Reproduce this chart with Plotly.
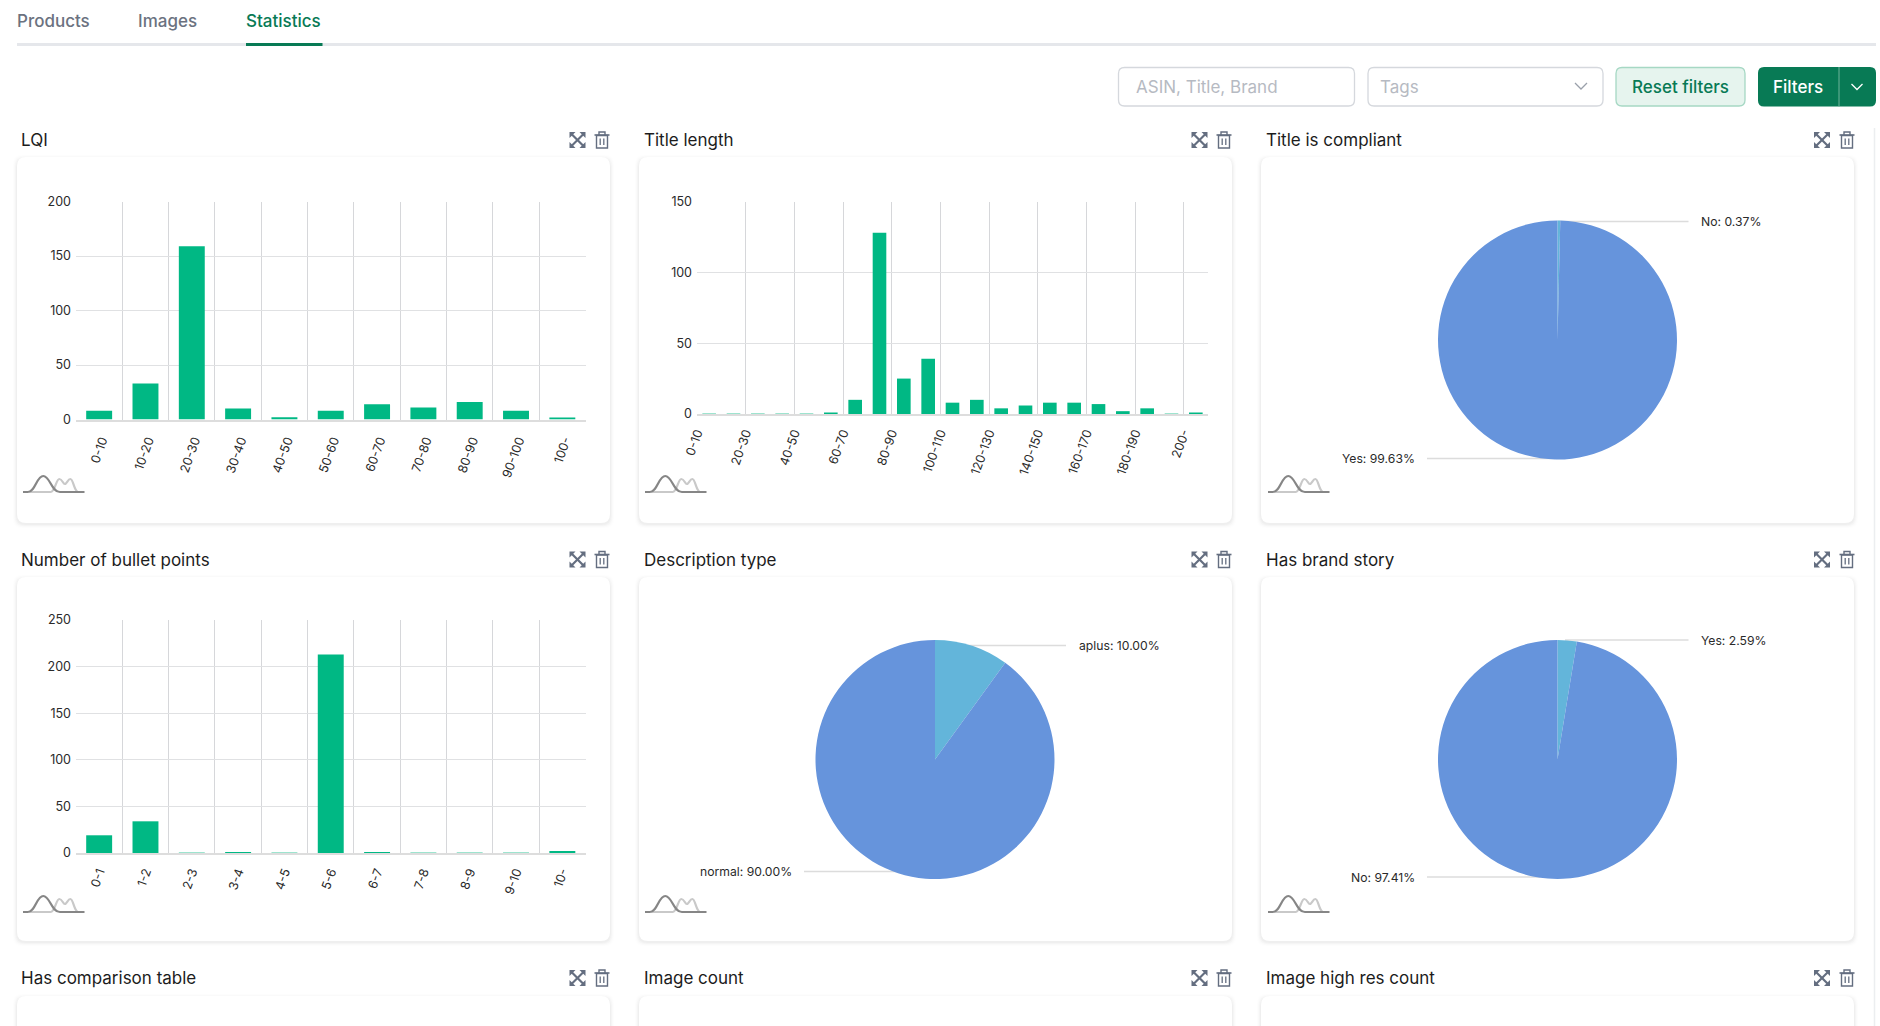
# dashboard "Statistics" tab: three bar charts, three pies, and the page around them
import plotly.graph_objects as go

W = 1880
H = 1026

GREEN = "#00b884"
DARK_GREEN = "#087a55"
BLUE = "#6694dc"
LIGHT_BLUE = "#63b5da"
GRID_V = "#d6d7da"
GRID_H = "#e0e1e3"
FONT = "Inter"

# bar chart data
lqi_cats = ["0-10", "10-20", "20-30", "30-40", "40-50", "50-60", "60-70", "70-80", "80-90", "90-100", "100-"]
lqi_vals = [8, 33, 159, 10, 2, 8, 14, 11, 16, 8, 1]

title_cats = ["0-10", "10-20", "20-30", "30-40", "40-50", "50-60", "60-70", "70-80", "80-90", "90-100", "100-110",
              "110-120", "120-130", "130-140", "140-150", "150-160", "160-170", "170-180", "180-190", "190-200", "200-"]
title_vals = [0, 0, 0, 0, 0, 1, 10, 128, 25, 39, 8, 10, 4, 6, 8, 8, 7, 2, 4, 0, 1]

bullet_cats = ["0-1", "1-2", "2-3", "3-4", "4-5", "5-6", "6-7", "7-8", "8-9", "9-10", "10-"]
bullet_vals = [19, 34, 0, 1, 0, 213, 1, 0, 0, 0, 2]

# pie data, percent
compliant_labels = ["No", "Yes"]
compliant_vals = [0.37, 99.63]
desc_labels = ["aplus", "normal"]
desc_vals = [10.00, 90.00]
brand_labels = ["Yes", "No"]
brand_vals = [2.59, 97.41]

# page text
tabs = ["Products", "Images", "Statistics"]
row1_titles = ["LQI", "Title length", "Title is compliant"]
row2_titles = ["Number of bullet points", "Description type", "Has brand story"]
row3_titles = ["Has comparison table", "Image count", "Image high res count"]


def px(x):
    return x / W


def py(y):
    return 1 - y / H


def path(cmds):
    # cmds is a list of (letter, x, y, ...) in page pixels
    out = []
    for c in cmds:
        nums = []
        for i, v in enumerate(c[1:]):
            nums.append(str(px(v) if i % 2 == 0 else py(v)))
        out.append(c[0] + " " + " ".join(nums))
    return " ".join(out)


def round_rect(x0, y0, x1, y1, r):
    return path([("M", x0 + r, y0), ("L", x1 - r, y0), ("Q", x1, y0, x1, y0 + r),
                 ("L", x1, y1 - r), ("Q", x1, y1, x1 - r, y1),
                 ("L", x0 + r, y1), ("Q", x0, y1, x0, y1 - r),
                 ("L", x0, y0 + r), ("Q", x0, y0, x0 + r, y0)]) + " Z"


shapes = []
annots = []


def add_path(d, fill="rgba(0,0,0,0)", line=None, width=0):
    shapes.append(dict(type="path", path=d, xref="paper", yref="paper", layer="below",
                       fillcolor=fill, line=dict(color=line or "rgba(0,0,0,0)", width=width)))


def add_line(x0, y0, x1, y1, color, width=1.0):
    shapes.append(dict(type="line", xref="paper", yref="paper", layer="below",
                       x0=px(x0), y0=py(y0), x1=px(x1), y1=py(y1), line=dict(color=color, width=width)))


def add_text(x, y, text, size=17, color="#1c1c1c", anchor="left", weight=400):
    annots.append(dict(x=px(x), y=py(y), xref="paper", yref="paper", text=text, showarrow=False,
                       xanchor=anchor, yanchor="middle",
                       font=dict(family=FONT, size=size, color=color, weight=weight)))


def add_card(x0, y0, x1, y1):
    for off, alpha in [(4, 0.008), (3, 0.012), (2, 0.018), (1, 0.025)]:
        add_path(round_rect(x0 - off, y0 - off + 2, x1 + off, y1 + off + 1, 9), fill="rgba(0,0,0,%s)" % alpha)
    add_path(round_rect(x0, y0, x1, y1, 9), fill="white")


def add_expand(cx, cy):
    c = "#646e80"
    add_line(cx - 6, cy - 6, cx + 6, cy + 6, c, 2.2)
    add_line(cx - 6, cy + 6, cx + 6, cy - 6, c, 2.2)
    for sx in (-1, 1):
        for sy in (-1, 1):
            add_path(path([("M", cx + sx * 8, cy + sy * 8), ("L", cx + sx * 2, cy + sy * 8),
                           ("L", cx + sx * 8, cy + sy * 2)]) + " Z", fill=c)


def add_trash(cx, cy):
    c = "#646e80"
    add_path(path([("M", cx - 5.5, cy - 4.5), ("L", cx + 5.5, cy - 4.5), ("L", cx + 5.5, cy + 8),
                   ("L", cx - 5.5, cy + 8)]) + " Z", line=c, width=1.4)
    add_line(cx - 7.5, cy - 5, cx + 7.5, cy - 5, c, 1.6)
    add_path(path([("M", cx - 3, cy - 5), ("L", cx - 3, cy - 8), ("L", cx + 3, cy - 8), ("L", cx + 3, cy - 5)]),
             line=c, width=1.4)
    add_line(cx - 1.8, cy - 1.5, cx - 1.8, cy + 5, c, 1.3)
    add_line(cx + 1.8, cy - 1.5, cx + 1.8, cy + 5, c, 1.3)


def add_density(x0, base):
    # small two-curve switch icon in the card corner
    u = 61.5 / 100
    add_path(path([("M", x0 + 10 * u, base), ("L", x0 + 45 * u, base),
                   ("C", x0 + 52 * u, base, x0 + 54 * u, base - 13, x0 + 59 * u, base - 13),
                   ("C", x0 + 64 * u, base - 13, x0 + 65 * u, base - 8, x0 + 68 * u, base - 8),
                   ("C", x0 + 71 * u, base - 8, x0 + 73 * u, base - 13, x0 + 77 * u, base - 13),
                   ("C", x0 + 82 * u, base - 13, x0 + 83 * u, base, x0 + 90 * u, base)]),
             line="#c9c9c9", width=2.2)
    add_path(path([("M", x0, base), ("L", x0 + 8 * u, base),
                   ("C", x0 + 20 * u, base, x0 + 22 * u, base - 16, x0 + 33 * u, base - 16),
                   ("C", x0 + 44 * u, base - 16, x0 + 46 * u, base, x0 + 60 * u, base),
                   ("L", x0 + 100 * u, base)]),
             line="#868686", width=2.2)


# page furniture
add_line(17, 44.5, 1876, 44.5, "#e5e7eb", 3)
add_line(246, 44.5, 322.5, 44.5, DARK_GREEN, 3)
add_line(1874.5, 128, 1874.5, H, "#eceef0", 1.5)
add_text(15, 21, tabs[0], color="#6b7280", weight=500)
add_text(136, 21, tabs[1], color="#6b7280", weight=500)
add_text(244, 21, tabs[2], color=DARK_GREEN, weight=500)

add_path(round_rect(1118.5, 67.5, 1354.5, 106, 6), fill="white", line="#d5d8dd", width=1.3)
add_text(1134, 87, "ASIN, Title, Brand", color="#b6bac2")
add_path(round_rect(1368, 67.5, 1603, 106, 6), fill="white", line="#d5d8dd", width=1.3)
add_text(1378, 87, "Tags", color="#b6bac2")
add_path(path([("M", 1575, 83), ("L", 1581, 89), ("L", 1587, 83)]), line="#9aa0aa", width=1.3)
add_path(round_rect(1616, 67.5, 1745, 106, 6), fill="#e6f4ee", line="#a6d8c4", width=1.3)
add_text(1680.5, 87, "Reset filters", color=DARK_GREEN, anchor="center", weight=500)
add_path(round_rect(1758, 67, 1876, 106.5, 6), fill=DARK_GREEN)
add_line(1839, 67, 1839, 106.5, "#6fb39b", 1)
add_text(1798, 87, "Filters", color="white", anchor="center", weight=500)
add_path(path([("M", 1851.5, 84), ("L", 1857, 89.5), ("L", 1862.5, 84)]), line="white", width=1.3)

# cards, titles, icons
card_cols = [(17, 610), (639, 1232), (1261, 1854)]
card_rows = [(157, 523), (577, 941), (996, H + 20)]
title_ys = [140, 559.5, 978]
title_xs = [19, 642, 1264]
expand_xs = [577.5, 1199.5, 1822]
trash_xs = [602, 1224, 1847]
icon_xs = [23, 645, 1268]
all_titles = [row1_titles, row2_titles, row3_titles]

for r in range(3):
    for c in range(3):
        add_card(card_cols[c][0], card_rows[r][0], card_cols[c][1], card_rows[r][1])
        add_text(title_xs[c], title_ys[r], all_titles[r][c])
        add_expand(expand_xs[c], title_ys[r])
        add_trash(trash_xs[c], title_ys[r])
        if r < 2:
            add_density(icon_xs[c], card_rows[r][0] + 335)

fig = go.Figure()

# bar charts: (cats, vals, label step, label shift, label standoff, ymax, plot box in page pixels)
bars = [
    (lqi_cats, lqi_vals, 1, 0.06, 7, 200, (76, 201.5, 585.5, 419.5)),
    (title_cats, title_vals, 2, -0.5, 5, 150, (697, 201.5, 1208, 414)),
    (bullet_cats, bullet_vals, 1, 0, 5, 250, (76, 620, 585.5, 853)),
]

layout_axes = {}
for i, (cats, vals, step, shift, standoff, ymax, box) in enumerate(bars):
    n = str(i + 1)
    # bars with no count still show as a thin pale line
    edge_w = [1.5 if v == 0 else 0 for v in vals]
    fig.add_trace(go.Bar(x=cats, y=vals, xaxis="x" + n, yaxis="y" + n,
                         marker=dict(color=GREEN, line=dict(color="#7fdcc0", width=edge_w))))
    layout_axes["xaxis" + n] = dict(
        type="category", categoryorder="array", categoryarray=cats,
        domain=[px(box[0]), px(box[2])], range=[-0.5, len(cats) - 0.5], anchor="y" + n,
        tickmode="array", tickvals=[j + shift for j in range(0, len(cats), step)], ticktext=cats[::step],
        tickangle=-70, ticks="", ticklabelstandoff=standoff,
        tickfont=dict(family=FONT, size=12.5, color="#2a2a2a"),
        showgrid=False, showline=True, linecolor="#dddddd", linewidth=1.5, layer="below traces",
        minor=dict(tickmode="array", tickvals=[j - 0.5 for j in range(0, len(cats), step)],
                   showgrid=True, gridcolor=GRID_V, gridwidth=1.2, ticks=""),
    )
    layout_axes["yaxis" + n] = dict(
        domain=[py(box[3]), py(box[1])], range=[0, ymax], dtick=50, anchor="x" + n,
        tickfont=dict(family=FONT, size=12.5, color="#2a2a2a"), ticklabelstandoff=4,
        showgrid=True, gridcolor=GRID_H, gridwidth=1.2, zeroline=False, showline=False, ticks="",
    )

# pies: (labels, vals, centre), radius is the same for all
PIE_R = 119.5
pies = [
    (compliant_labels, compliant_vals, (1557.5, 340)),
    (desc_labels, desc_vals, (935, 759.5)),
    (brand_labels, brand_vals, (1557.5, 759.5)),
]
for labels, vals, (cx, cy) in pies:
    fig.add_trace(go.Pie(labels=labels, values=vals, sort=False, direction="clockwise", rotation=0,
                         textinfo="none", showlegend=False,
                         marker=dict(colors=[LIGHT_BLUE, BLUE], line=dict(width=0)),
                         domain=dict(x=[px(cx - PIE_R), px(cx + PIE_R)], y=[py(cy + PIE_R), py(cy - PIE_R)])))


def pie_label(label, val, y, x_in, x_end, x_text, anchor):
    add_line(x_in, y, x_end, y, "#dcdcdc", 1.5)
    add_text(x_text, y, "%s: %.2f%%" % (label, val), size=12.2, color="#2a2a2a", anchor=anchor)


pie_label(compliant_labels[0], compliant_vals[0], 221.5, 1558, 1688.5, 1699, "left")
pie_label(compliant_labels[1], compliant_vals[1], 458.5, 1555, 1427, 1416.5, "right")
pie_label(desc_labels[0], desc_vals[0], 645.5, 965, 1066, 1076.5, "left")
pie_label(desc_labels[1], desc_vals[1], 871.5, 900, 804, 794, "right")
pie_label(brand_labels[0], brand_vals[0], 640, 1565, 1688.5, 1698.5, "left")
pie_label(brand_labels[1], brand_vals[1], 877, 1540, 1427, 1416.5, "right")

fig.update_layout(width=W, height=H, autosize=False, margin=dict(t=0, b=0, l=0, r=0, pad=0, autoexpand=False),
                  paper_bgcolor="white", plot_bgcolor="rgba(0,0,0,0)",
                  showlegend=False, bargap=0.44, shapes=shapes, annotations=annots,
                  font=dict(family=FONT), **layout_axes)

# the page body has a default margin, pin the figure to the window corner instead
pin = ("document.documentElement.style.margin = '0'; document.body.style.margin = '0';"
       "var g = document.querySelector('.plotly-graph-div');"
       "g.style.position = 'fixed'; g.style.top = '0'; g.style.left = '0';")
fig.write_html("out.html", config=dict(displayModeBar=False), post_script=pin)
